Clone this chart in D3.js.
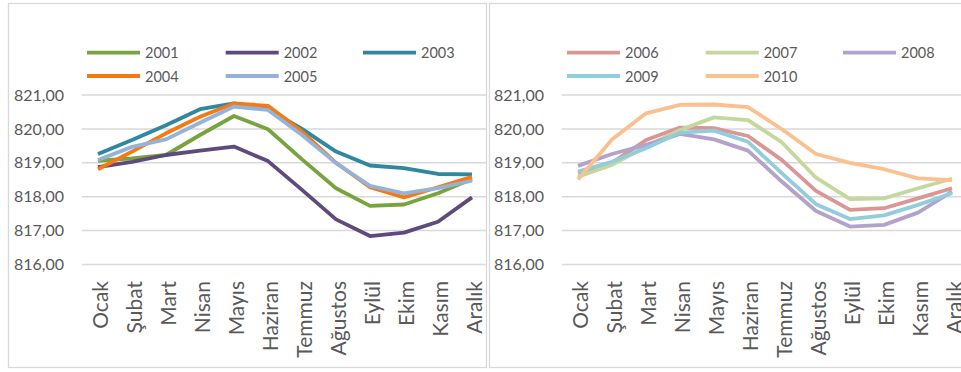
<!DOCTYPE html>
<html>
<head>
<meta charset="utf-8">
<script src="https://cdn.jsdelivr.net/npm/d3@7/dist/d3.min.js"></script>
<style>
  html, body { margin: 0; padding: 0; background: #fff; }
  svg { display: block; font-family: Lato, "Open Sans", sans-serif; }
</style>
</head>
<body>
<svg id="chart" width="961" height="372"></svg>
<script>
// Monthly water level (m), one line per year
const months = ["Ocak", "Şubat", "Mart", "Nisan", "Mayıs", "Haziran",
                "Temmuz", "Ağustos", "Eylül", "Ekim", "Kasım", "Aralık"];
const yTicks = [816, 817, 818, 819, 820, 821];

const years2001 = [819.06, 819.13, 819.23, 819.82, 820.38, 819.99, 819.10, 818.25, 817.73, 817.77, 818.10, 818.52];
const years2002 = [818.87, 819.03, 819.23, 819.36, 819.48, 819.05, 818.20, 817.33, 816.84, 816.94, 817.26, 817.98];
const years2003 = [819.26, 819.67, 820.11, 820.58, 820.75, 820.58, 820.00, 819.33, 818.92, 818.84, 818.67, 818.66];
const years2004 = [818.81, 819.33, 819.87, 820.36, 820.75, 820.68, 819.92, 819.00, 818.28, 817.98, 818.28, 818.59];
const years2005 = [819.08, 819.47, 819.69, 820.18, 820.66, 820.56, 819.82, 818.99, 818.32, 818.10, 818.25, 818.47];

const years2006 = [818.69, 819.00, 819.67, 820.04, 820.02, 819.79, 819.08, 818.17, 817.61, 817.66, 817.95, 818.25];
const years2007 = [818.59, 818.94, 819.48, 819.97, 820.34, 820.26, 819.60, 818.56, 817.93, 817.95, 818.25, 818.53];
const years2008 = [818.91, 819.26, 819.53, 819.85, 819.69, 819.36, 818.44, 817.58, 817.12, 817.17, 817.53, 818.15];
const years2009 = [818.74, 819.03, 819.43, 819.89, 819.95, 819.62, 818.69, 817.78, 817.34, 817.45, 817.76, 818.10];
const years2010 = [818.51, 819.69, 820.46, 820.71, 820.72, 820.64, 819.99, 819.26, 819.00, 818.81, 818.54, 818.49];

const panels = [
  {
    offset: 0, gridEnd: 486, frameW: 478,
    series: [
      { name: "2001", values: years2001, color: "#79A33E" },
      { name: "2002", values: years2002, color: "#5F4A7E" },
      { name: "2003", values: years2003, color: "#2F87A0" },
      { name: "2004", values: years2004, color: "#F57A14" },
      { name: "2005", values: years2005, color: "#95B3D9" }
    ]
  },
  {
    offset: 480, gridEnd: 500, frameW: 500,
    series: [
      { name: "2006", values: years2006, color: "#DA9694" },
      { name: "2007", values: years2007, color: "#C4D79C" },
      { name: "2008", values: years2008, color: "#B3A2C9" },
      { name: "2009", values: years2009, color: "#92CDDD" },
      { name: "2010", values: years2010, color: "#FBC08F" }
    ]
  }
];

const svg = d3.select("#chart");
const textColor = "#595959";
const gridColor = "#D9D9D9";

const x = d3.scaleBand().domain(months).range([81, 489]);
const y = d3.scaleLinear().domain([816, 821]).range([264.5, 95]);
const px = m => x(m) + x.bandwidth() / 2;

panels.forEach((p, pi) => {
  const g = svg.append("g").attr("transform", `translate(${p.offset},0)`);

  // frame
  g.append("rect")
    .attr("x", pi === 0 ? 8.5 : 9.5).attr("y", 3.5)
    .attr("width", p.frameW).attr("height", 364)
    .attr("fill", "none").attr("stroke", gridColor).attr("stroke-width", 1.3);

  // gridlines
  g.selectAll(".grid").data(yTicks).join("line")
    .attr("x1", 82).attr("x2", p.gridEnd)
    .attr("y1", d => y(d)).attr("y2", d => y(d))
    .attr("stroke", gridColor).attr("stroke-width", 1.5);

  // y axis labels
  const yAxis = d3.axisLeft(y).tickValues(yTicks).tickSize(0).tickPadding(0)
    .tickFormat(d => d3.format(".2f")(d).replace(".", ","));
  const ya = g.append("g").attr("transform", "translate(64,0)").call(yAxis);
  ya.select(".domain").remove();
  ya.selectAll("text").attr("fill", textColor)
    .style("font-size", "16px").style("font-family", "Lato, sans-serif");

  // x axis labels (rotated)
  g.selectAll(".xl").data(months).join("text")
    .attr("transform", d => `translate(${px(d) + 1},281) rotate(-90)`)
    .attr("text-anchor", "end")
    .attr("dominant-baseline", "central")
    .attr("fill", textColor)
    .style("font-size", "21px")
    .text(d => d);

  // lines
  const line = d3.line()
    .x((d, i) => px(months[i]))
    .y(d => y(d));
  g.selectAll(".series").data(p.series).join("path")
    .attr("d", s => line(s.values))
    .attr("fill", "none")
    .attr("stroke", s => s.color)
    .attr("stroke-width", 3.8)
    .attr("stroke-linejoin", "round")
    .attr("stroke-linecap", "butt");

  // legend
  const legCols = [87, 225.7, 363];
  const legRows = [52.7, 76];
  const leg = g.selectAll(".leg").data(p.series).join("g")
    .attr("transform", (s, i) => `translate(${legCols[i % 3]},${legRows[Math.floor(i / 3)]})`);
  leg.append("line")
    .attr("x1", 0).attr("x2", 53).attr("y1", 0).attr("y2", 0)
    .attr("stroke", s => s.color).attr("stroke-width", 3.8);
  leg.append("text")
    .attr("x", 58).attr("y", 0)
    .attr("dominant-baseline", "central")
    .attr("fill", textColor)
    .style("font-size", "14.5px")
    .text(s => s.name);
});
</script>
</body>
</html>
